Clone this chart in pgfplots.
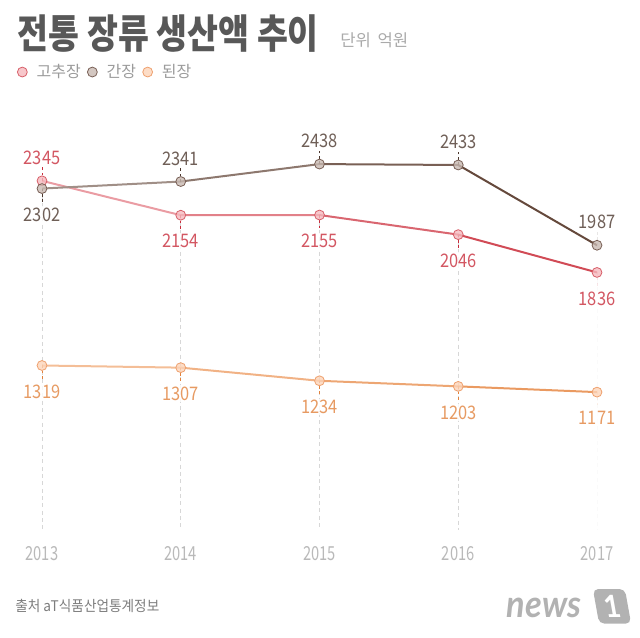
\documentclass[border=0pt]{standalone}
\usepackage{fontspec}
\setmainfont{Noto Sans CJK KR}
\newfontfamily\titlefont[FakeStretch=0.84]{Noto Sans CJK KR}
\newfontfamily\valfont[FakeStretch=0.88]{Noto Sans CJK KR}
\newfontfamily\yearfont[FakeStretch=0.76]{Noto Sans CJK KR}
\newfontfamily\srcfont[FakeStretch=0.93]{Noto Sans CJK KR}
\newfontfamily\logofont[FakeStretch=0.92]{Lato}
\usepackage{pgfplots}
\usepackage{pgfplotstable}
\pgfplotsset{compat=1.18}

\definecolor{titlegray}{RGB}{88,88,88}
\definecolor{unitgray}{RGB}{170,170,170}
\definecolor{legendgray}{RGB}{155,155,155}
\definecolor{yeargray}{RGB}{185,185,185}
\definecolor{dashgray}{RGB}{215,215,215}
\definecolor{srcgray}{RGB}{125,125,125}
\definecolor{logogray}{RGB}{178,178,178}
% gochujang
\definecolor{gcfill}{RGB}{245,185,190}
\definecolor{gcdraw}{RGB}{215,95,105}
\definecolor{gclab}{RGB}{200,45,60}
% ganjang
\definecolor{gjfill}{RGB}{200,185,178}
\definecolor{gjdraw}{RGB}{120,95,85}
\definecolor{gjlab}{RGB}{75,55,45}
% doenjang
\definecolor{djfill}{RGB}{252,212,185}
\definecolor{djdraw}{RGB}{238,160,110}
\definecolor{djlab}{RGB}{225,130,60}

\pgfplotstableread{
x y ep em dy
2013 2345 80 0 17.25
2014 2154 0 80 -19.5
2015 2155 0 80 -19.5
2016 2046 0 80 -19.5
2017 1836 0 80 -19.5
}\gochu
\pgfplotstableread{
x y ep em dy
2013 2302 0 80 -19.5
2014 2341 80 0 17.25
2015 2438 80 0 17.25
2016 2433 80 0 17.25
2017 1987 80 0 17.25
}\ganjang
\pgfplotstableread{
x y ep em dy
2013 1319 0 80 -19.5
2014 1307 0 80 -19.5
2015 1234 0 80 -19.5
2016 1203 0 80 -19.5
2017 1171 0 80 -19.5
}\doen

\pgfplotsset{
  markplot/.style n args={3}{
    only marks, mark=*, mark size=3.7pt,
    mark options={fill=#1, fill opacity=0.8, draw=#2, line width=0.6pt},
    point meta=explicit symbolic,
    nodes near coords,
    visualization depends on={\thisrow{dy} \as \dy},
    every node near coord/.append style={anchor=center, yshift=\dy pt,
      font=\valfont\fontsize{14}{14}\selectfont, text=#3, fill=white, inner sep=1pt},
    error bars/.cd, y dir=both, y explicit, error mark=none,
      error bar style={draw=#3, dash pattern=on 2pt off 2pt, line width=0.6pt},
  },
  lineplot/.style n args={2}{
    mesh, forget plot, no marks, point meta=x, line width=1.5pt, line cap=round,
    colormap={#1}{#2},
  },
}

\begin{document}
\begin{tikzpicture}
\useasboundingbox (0,0) rectangle (480pt,477.75pt);
\node[anchor=west, text=titlegray, font=\titlefont\bfseries\fontsize{30}{30}\selectfont, inner sep=0pt] at (13pt,452.5pt) {전통 장류 생산액 추이};
\node[anchor=west, text=unitgray, font=\fontsize{12.5}{12.5}\selectfont, inner sep=0pt] at (255pt,447.5pt) {단위\hspace{5pt}억원};
\node[anchor=west, text=srcgray, font=\srcfont\fontsize{11}{11}\selectfont, inner sep=0pt] at (11.25pt,23.25pt) {출처 aT식품산업통계정보};
\node[anchor=west, text=logogray, font=\logofont\bfseries\itshape\fontsize{28}{28}\selectfont, inner sep=0pt] at (380pt,22pt) {news};
\node[fill=logogray, rounded corners=4pt, text=white, font=\logofont\bfseries\fontsize{23}{23}\selectfont, minimum width=24pt, minimum height=26pt, inner sep=0pt, xslant=-0.18] at (459pt,23pt) {1};

\begin{axis}[
  at={(31.5pt,80.25pt)}, anchor=south west,
  scale only axis, width=416.25pt, height=322.5pt,
  xmin=2013, xmax=2017, ymin=405, ymax=2794,
  axis line style={draw=none},
  ytick=\empty, xtick={2013,2014,2015,2016,2017},
  xticklabels={2013,2014,2015,2016,2017},
  major tick length=0pt,
  xticklabel style={font=\yearfont\fontsize{14.5}{14.5}\selectfont, text=yeargray, yshift=-8.5pt},
  clip mode=individual,
  legend columns=3,
  legend style={draw=none, fill=none, at={(axis description cs:-0.052,1.065)}, anchor=west,
    font=\fontsize{12}{12}\selectfont, text=legendgray,
    /tikz/every even column/.append style={column sep=3pt},
    /tikz/every odd column/.append style={column sep=5pt}},
  legend image code/.code={\draw[#1] plot coordinates {(5pt,0pt)};},
]
% vertical dashed guides
\addplot[draw=none, forget plot, error bars/.cd, y dir=minus, y explicit, error mark=none,
  error bar style={draw=dashgray, dash pattern=on 3pt off 2.5pt, line width=0.6pt}]
  table[x=x, y=y, y error minus expr=\thisrow{y}-405] {\gochu};

% lines
\addplot[lineplot={gcmap}{rgb255=(238,170,176) rgb255=(205,62,74)}] table[x=x,y=y] {\gochu};
\addplot[lineplot={gjmap}{rgb255=(170,155,148) rgb255=(92,62,48)}] table[x=x,y=y] {\ganjang};
\addplot[lineplot={djmap}{rgb255=(246,196,160) rgb255=(232,148,88)}] table[x=x,y=y] {\doen};

% markers + labels
\addplot[markplot={gcfill}{gcdraw}{gclab}] table[x=x, y=y, meta=y, y error plus=ep, y error minus=em] {\gochu};
\addlegendentry{고추장}
\addplot[markplot={gjfill}{gjdraw}{gjlab}] table[x=x, y=y, meta=y, y error plus=ep, y error minus=em] {\ganjang};
\addlegendentry{간장}
\addplot[markplot={djfill}{djdraw}{djlab}] table[x=x, y=y, meta=y, y error plus=ep, y error minus=em] {\doen};
\addlegendentry{된장}
\end{axis}
\end{tikzpicture}
\end{document}
